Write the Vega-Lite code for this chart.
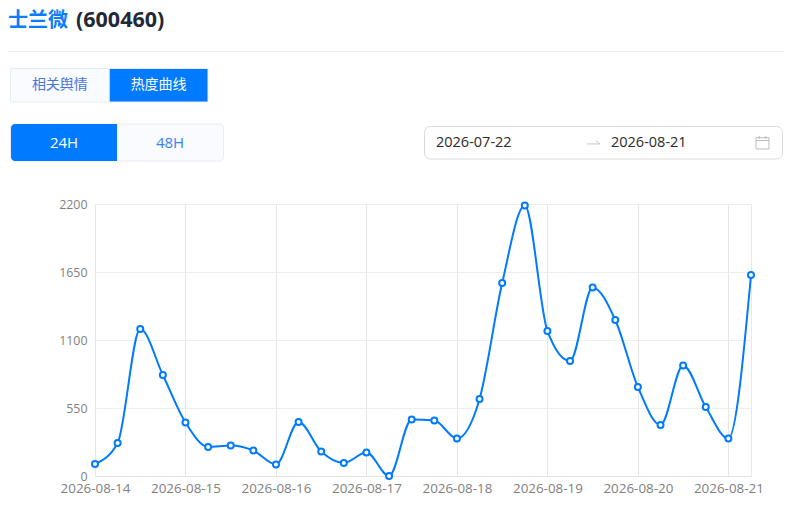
{
"$schema":"https://vega.github.io/schema/vega-lite/v6.json",
"width":656,"height":272,
"autosize":{"type":"none"},
"padding":{"left":95,"top":204,"right":43,"bottom":32},
"background":"#ffffff",
"config":{"font":"Open Sans, Noto Sans CJK SC","view":{"stroke":"#e9e9e9"},"text":{"font":"Open Sans, Noto Sans CJK SC"}},
"datasets":{
"hot":[
{"t":"2026-08-14T00:00:00Z","v":97},{"t":"2026-08-14T06:00:00Z","v":267},{"t":"2026-08-14T12:00:00Z","v":1189},{"t":"2026-08-14T18:00:00Z","v":817},
{"t":"2026-08-15T00:00:00Z","v":433},{"t":"2026-08-15T06:00:00Z","v":235},{"t":"2026-08-15T12:00:00Z","v":247},{"t":"2026-08-15T18:00:00Z","v":206},
{"t":"2026-08-16T00:00:00Z","v":93},{"t":"2026-08-16T06:00:00Z","v":437},{"t":"2026-08-16T12:00:00Z","v":198},{"t":"2026-08-16T18:00:00Z","v":105},
{"t":"2026-08-17T00:00:00Z","v":190},{"t":"2026-08-17T06:00:00Z","v":0},{"t":"2026-08-17T12:00:00Z","v":457},{"t":"2026-08-17T18:00:00Z","v":449},
{"t":"2026-08-18T00:00:00Z","v":303},{"t":"2026-08-18T06:00:00Z","v":623},{"t":"2026-08-18T12:00:00Z","v":1561},{"t":"2026-08-18T18:00:00Z","v":2188},
{"t":"2026-08-19T00:00:00Z","v":1173},{"t":"2026-08-19T06:00:00Z","v":930},{"t":"2026-08-19T12:00:00Z","v":1525},{"t":"2026-08-19T18:00:00Z","v":1262},
{"t":"2026-08-20T00:00:00Z","v":720},{"t":"2026-08-20T06:00:00Z","v":413},{"t":"2026-08-20T12:00:00Z","v":894},{"t":"2026-08-20T18:00:00Z","v":558},
{"t":"2026-08-21T00:00:00Z","v":303},{"t":"2026-08-21T06:00:00Z","v":1626}],
"heading":[{"label":"士兰微","group":"title"},{"label":"(600460)","group":"title"}],
"divider":[{"from":0,"to":1,"group":"divider"}],
"tabs":[{"label":"相关舆情","state":"off","group":"tabs"},{"label":"热度曲线","state":"on","group":"tabs"}],
"windows":[{"label":"24H","state":"on","group":"window"},{"label":"48H","state":"off","group":"window"}],
"windowBox":[{"box":"window","group":"window"}],
"dateBox":[{"box":"date","group":"date"}],
"dates":[{"label":"2026-07-22","group":"date"},{"label":"2026-08-21","group":"date"}],
"arrow":[{"item":"arrow","group":"date"}],
"calendar":[{"item":"calendar","group":"date"}]
},
"layer":[
{"data":{"name":"hot"},"mark":{"type":"line","interpolate":"monotone","color":"#007aff","strokeWidth":2,"clip":false},
"encoding":{
"x":{"field":"t","type":"temporal","scale":{"type":"utc","domain":["2026-08-14T00:00:00Z","2026-08-21T06:00:00Z"]},
"axis":{"title":null,"labelExpr":"utcFormat(datum.value,'%Y-%m-%d')","tickCount":{"interval":"day","step":1},"grid":true,"gridColor":"#e6e6e6","gridWidth":1,"domainColor":"#e0e3ea","ticks":false,"labelColor":"#7f7f7f","labelFontSize":13.4,"labelPadding":5,"labelFont":"Open Sans","labelOverlap":false,"labelFlush":false}},
"y":{"field":"v","type":"quantitative","scale":{"domain":[0,2200],"nice":false},
"axis":{"title":null,"format":"d","values":[0,550,1100,1650,2200],"grid":true,"gridColor":"#eeeeee","gridWidth":1,"domain":false,"ticks":false,"labelColor":"#7f7f7f","labelFontSize":12.4,"labelPadding":8,"labelFont":"Open Sans"}}}},
{"data":{"name":"hot"},"mark":{"type":"point","filled":true,"fill":"#ffffff","stroke":"#007aff","strokeWidth":2,"size":36,"opacity":1,"clip":false},
"encoding":{
"x":{"field":"t","type":"temporal","axis":null,"scale":{"type":"utc","domain":["2026-08-14T00:00:00Z","2026-08-21T06:00:00Z"]}},
"y":{"field":"v","type":"quantitative","axis":null,"scale":{"domain":[0,2200],"nice":false}}}},

{"data":{"name":"heading"},"mark":{"type":"text","align":"left","baseline":"middle","fontWeight":"bold"},
"encoding":{
"x":{"field":"label","type":"nominal","axis":null,"scale":{"type":"point","domain":["士兰微","(600460)"],"range":[-87,-19],"padding":0}},
"y":{"field":"group","type":"nominal","axis":null,"scale":{"type":"point","domain":["title"],"range":[-183.5,-183.5]}},
"text":{"field":"label"},
"size":{"field":"label","type":"nominal","legend":null,"scale":{"type":"ordinal","domain":["士兰微","(600460)"],"range":[20,21.5]}},
"color":{"field":"label","type":"nominal","legend":null,"scale":{"domain":["士兰微","(600460)"],"range":["#0a7cff","#1f2937"]}}}},

{"data":{"name":"divider"},"mark":{"type":"rule","color":"#eceef2","strokeWidth":1},
"encoding":{
"x":{"field":"from","type":"quantitative","axis":null,"scale":{"domain":[0,1],"range":[-87,689],"nice":false,"zero":false}},
"x2":{"field":"to"},
"y":{"field":"group","type":"nominal","axis":null,"scale":{"type":"point","domain":["divider"],"range":[-152.5,-152.5]}}}},

{"data":{"name":"tabs"},"mark":{"type":"rect","stroke":"#e6ecf6","strokeWidth":1},
"encoding":{
"x":{"field":"label","type":"nominal","axis":null,"scale":{"type":"band","domain":["相关舆情","热度曲线"],"range":[-84.5,113],"padding":0}},
"y":{"field":"group","type":"nominal","axis":null,"scale":{"type":"band","domain":["tabs"],"range":[-135.5,-102],"padding":0}},
"fill":{"field":"state","type":"nominal","legend":null,"scale":{"domain":["on","off"],"range":["#007aff","#f9fbff"]}}}},
{"data":{"name":"tabs"},"mark":{"type":"text","baseline":"middle","fontSize":14,"font":"Noto Sans CJK SC"},
"encoding":{
"x":{"field":"label","type":"nominal","axis":null,"scale":{"type":"band","domain":["相关舆情","热度曲线"],"range":[-84.5,113],"padding":0}},
"y":{"field":"group","type":"nominal","axis":null,"scale":{"type":"band","domain":["tabs"],"range":[-135.5,-102],"padding":0}},
"text":{"field":"label"},
"color":{"field":"state","type":"nominal","legend":null,"scale":{"domain":["on","off"],"range":["#ffffff","#4a74e0"]}}}},

{"data":{"name":"windowBox"},"mark":{"type":"rect","fill":"#f9fbff","stroke":"#e8ecf5","strokeWidth":1,"cornerRadius":4},
"encoding":{
"x":{"field":"box","type":"nominal","axis":null,"scale":{"type":"band","domain":["window"],"range":[-84.5,128.5],"padding":0}},
"y":{"field":"group","type":"nominal","axis":null,"scale":{"type":"band","domain":["window"],"range":[-80,-43],"padding":0}}}},
{"data":{"name":"windows"},"transform":[{"filter":"datum.state === 'on'"}],"mark":{"type":"rect","fill":"#007aff","cornerRadiusTopLeft":4,"cornerRadiusBottomLeft":4},
"encoding":{
"x":{"field":"label","type":"nominal","axis":null,"scale":{"type":"band","domain":["24H","48H"],"range":[-84,128],"padding":0}},
"y":{"field":"group","type":"nominal","axis":null,"scale":{"type":"band","domain":["window"],"range":[-80,-43],"padding":0}}}},
{"data":{"name":"windows"},"mark":{"type":"text","baseline":"middle","fontSize":15},
"encoding":{
"x":{"field":"label","type":"nominal","axis":null,"scale":{"type":"band","domain":["24H","48H"],"range":[-84,128],"padding":0}},
"y":{"field":"group","type":"nominal","axis":null,"scale":{"type":"band","domain":["window"],"range":[-80,-43],"padding":0}},
"text":{"field":"label"},
"color":{"field":"state","type":"nominal","legend":null,"scale":{"domain":["on","off"],"range":["#ffffff","#3d7ff0"]}}}},

{"data":{"name":"dateBox"},"mark":{"type":"rect","fill":"#ffffff","stroke":"#d9d9d9","strokeWidth":1,"cornerRadius":6},
"encoding":{
"x":{"field":"box","type":"nominal","axis":null,"scale":{"type":"band","domain":["date"],"range":[329.5,687.5],"padding":0}},
"y":{"field":"group","type":"nominal","axis":null,"scale":{"type":"band","domain":["date"],"range":[-77.5,-45],"padding":0}}}},
{"data":{"name":"dates"},"mark":{"type":"text","align":"left","baseline":"middle","fontSize":14.5,"color":"#2b2b2b"},
"encoding":{
"x":{"field":"label","type":"nominal","axis":null,"scale":{"type":"point","domain":["2026-07-22","2026-08-21"],"range":[341,516],"padding":0}},
"y":{"field":"group","type":"nominal","axis":null,"scale":{"type":"point","domain":["date"],"range":[-61.5,-61.5]}},
"text":{"field":"label"}}},
{"data":{"name":"arrow"},"mark":{"type":"point","shape":"M-1,0.3H1L0.4,-0.2","filled":false,"stroke":"#c8c8c8","strokeWidth":1,"size":169,"opacity":1},
"encoding":{
"x":{"field":"item","type":"nominal","axis":null,"scale":{"type":"point","domain":["arrow"],"range":[498.5,498.5]}},
"y":{"field":"group","type":"nominal","axis":null,"scale":{"type":"point","domain":["date"],"range":[-62,-62]}}}},
{"data":{"name":"calendar"},"mark":{"type":"point","shape":"M-1,-0.75H1V1H-1Z M-1,-0.3H1 M-0.5,-1V-0.55 M0.5,-1V-0.55","filled":false,"stroke":"#bdbdbd","strokeWidth":1,"size":169,"opacity":1},
"encoding":{
"x":{"field":"item","type":"nominal","axis":null,"scale":{"type":"point","domain":["calendar"],"range":[667.5,667.5]}},
"y":{"field":"group","type":"nominal","axis":null,"scale":{"type":"point","domain":["date"],"range":[-61.5,-61.5]}}}}
],
"resolve":{"scale":{"x":"independent","y":"independent","color":"independent","fill":"independent","size":"independent"},"axis":{"x":"independent","y":"independent"}}
}
